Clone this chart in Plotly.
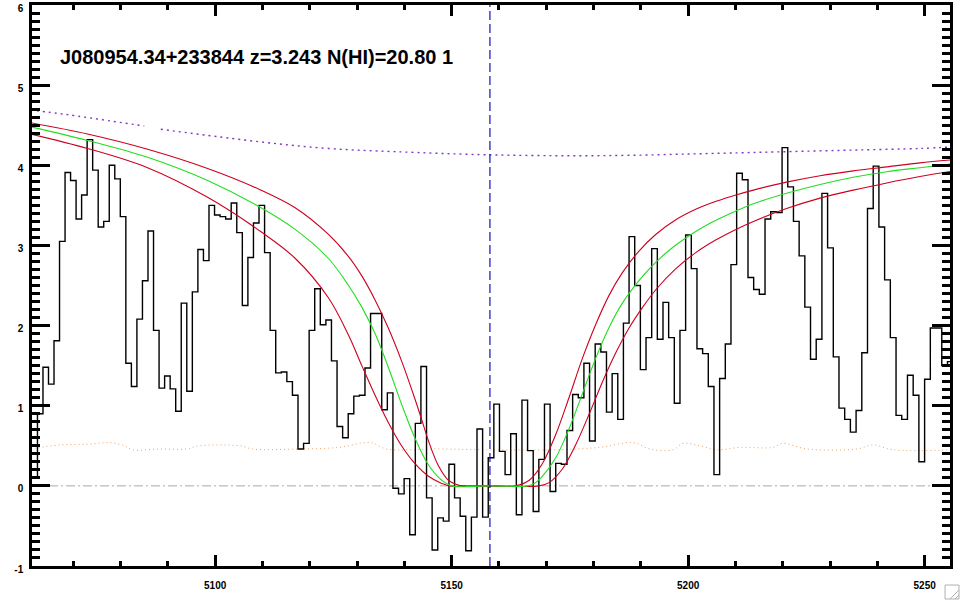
import numpy as np
import plotly.graph_objects as go

# ---------------- data ----------------
qso_name = "J080954.34+233844"
z_abs = 3.243
log_nhi = "20.80"
lya_rest = 1215.67

wave_start = 5061.26      # left edge of first pixel (Angstrom)
log_step = 1e-4           # SDSS log10 pixel width

flux = [0.10, 0.90, 1.48, 1.27, 1.81, 3.05, 3.91, 3.81, 3.33, 3.63,
        4.32, 3.94, 3.23, 3.30, 4.00, 3.83, 3.36, 1.53, 1.24, 2.08,
        2.56, 3.18, 1.94, 1.22, 1.37, 1.21, 0.93, 2.28, 1.18, 2.42,
        2.95, 2.81, 3.50, 3.38, 3.36, 3.33, 3.53, 3.16, 2.25, 2.85,
        3.28, 3.50, 2.91, 1.94, 1.41, 1.42, 1.30, 1.13, 0.46, 0.53,
        1.94, 2.46, 2.01, 2.07, 1.56, 0.74, 0.60, 0.90, 1.12, 1.13,
        1.47, 2.15, 2.15, 0.95, 1.16, -0.03, -0.10, 0.09, -0.61, 0.78,
        1.49, -0.15, -0.80, -0.40, -0.44, 0.27, -0.15, -0.38, -0.81, -0.39,
        0.71, -0.39, 0.35, 1.02, 0.43, 0.14, 0.65, -0.36, 1.07, 0.44,
        -0.32, 0.33, 1.02, -0.07, 0.28, 0.27, 0.69, 1.14, 1.10, 1.53,
        0.56, 1.77, 1.67, 0.92, 1.40, 0.83, 2.03, 3.11, 2.50, 1.45,
        1.85, 2.96, 1.83, 2.29, 1.85, 1.03, 1.94, 3.13, 2.71, 1.71,
        1.65, 1.24, 0.14, 1.34, 1.77, 2.76, 3.90, 3.82, 2.60, 2.45,
        2.39, 3.33, 3.42, 3.41, 4.22, 3.73, 3.30, 2.87, 2.23, 1.58,
        1.83, 3.65, 2.97, 1.61, 0.97, 0.83, 0.67, 0.94, 1.66, 3.46,
        3.99, 3.23, 2.57, 1.85, 0.88, 0.83, 1.38, 1.13, 0.30, 1.33,
        1.97, 1.97, 1.50, 1.55]

# best-fit damped Lya profile (green)
fit_wave = [5061.0, 5073.0, 5085.7, 5098.4, 5109.7, 5116.9, 5123.9, 5128.2,
            5131.0, 5133.8, 5136.6, 5139.4, 5142.2, 5145.1, 5147.9, 5150.0,
            5158.0, 5166.0, 5167.5, 5169.2, 5172.0, 5174.8, 5177.7, 5180.5,
            5183.3, 5186.1, 5189.6, 5192.5, 5196.0, 5200.2, 5204.4, 5210.1,
            5213.8, 5220.8, 5227.9, 5234.9, 5242.0, 5249.0, 5256.1]
fit_flux = [4.48, 4.31, 4.10, 3.81, 3.47, 3.20, 2.84, 2.50,
            2.23, 1.90, 1.48, 1.02, 0.60, 0.26, 0.07, 0.0,
            0.0, 0.0, 0.03, 0.12, 0.35, 0.71, 1.16, 1.60,
            1.98, 2.28, 2.56, 2.75, 2.94, 3.12, 3.27, 3.43,
            3.52, 3.65, 3.76, 3.85, 3.92, 3.97, 4.02]

# profile for N(HI) - sigma (upper red)
hi_wave = [5061.0, 5073.0, 5085.7, 5098.4, 5109.7, 5116.9, 5123.9, 5128.2,
           5131.0, 5133.8, 5136.6, 5139.4, 5142.2, 5143.7, 5145.1, 5147.2,
           5149.3, 5151.4, 5152.5, 5158.0, 5163.5, 5166.4, 5169.2, 5172.0,
           5174.8, 5177.7, 5180.5, 5183.3, 5186.1, 5189.6, 5193.2, 5197.4,
           5201.6, 5205.9, 5210.1, 5213.8, 5220.8, 5227.9, 5234.9, 5242.0,
           5249.0, 5256.1]
hi_flux = [4.53, 4.39, 4.20, 3.96, 3.69, 3.47, 3.14, 2.86,
           2.62, 2.32, 1.97, 1.56, 1.09, 0.82, 0.56, 0.25,
           0.07, 0.01, 0.0, 0.0, 0.0, 0.07, 0.28, 0.64,
           1.10, 1.60, 2.02, 2.38, 2.66, 2.93, 3.14, 3.32,
           3.45, 3.55, 3.63, 3.69, 3.79, 3.87, 3.93, 3.98,
           4.03, 4.07]

# profile for N(HI) + sigma (lower red)
lo_wave = [5061.0, 5073.0, 5085.7, 5098.4, 5109.7, 5116.9, 5123.9, 5128.2,
           5131.0, 5133.8, 5136.6, 5139.4, 5142.2, 5145.1, 5147.9, 5149.5,
           5158.0, 5168.5, 5170.6, 5173.4, 5176.2, 5179.1, 5181.9, 5184.7,
           5187.5, 5190.4, 5193.2, 5197.4, 5201.6, 5205.9, 5210.1, 5213.8,
           5220.8, 5227.9, 5234.9, 5242.0, 5249.0, 5256.1]
lo_flux = [4.39, 4.21, 3.97, 3.60, 3.17, 2.84, 2.35, 1.88,
           1.50, 1.13, 0.79, 0.50, 0.28, 0.12, 0.03, 0.0,
           0.0, 0.0, 0.04, 0.21, 0.51, 0.90, 1.30, 1.66,
           1.97, 2.23, 2.45, 2.71, 2.91, 3.07, 3.20, 3.30,
           3.46, 3.59, 3.69, 3.78, 3.86, 3.93]

# continuum (purple dotted)
cont_wave = [5061.0, 5067.7, 5070.2, 5085.0, 5086.0, 5088.5, 5109.8, 5123.9,
             5138.0, 5158.5, 5181.3, 5206.7, 5220.8, 5234.9, 5249.0, 5256.1]
cont_flux = [4.69, 4.64, 4.62, 4.49, None, 4.45, 4.29, 4.21,
             4.17, 4.13, 4.12, 4.15, 4.17, 4.19, 4.21, 4.23]

# flux error (orange dotted)
err_wave = [5061.0, 5067.1, 5073.4, 5077.7, 5080.8, 5082.5, 5088.2, 5093.9,
            5096.7, 5105.2, 5107.9, 5117.9, 5126.3, 5132.7, 5136.3, 5147.5,
            5157.4, 5171.4, 5181.3, 5188.3, 5191.9, 5196.8, 5198.9, 5202.5,
            5206.1, 5210.9, 5217.9, 5220.0, 5225.1, 5235.7, 5239.1, 5243.3,
            5256.0]
err_flux = [0.46, 0.51, 0.52, 0.54, 0.50, 0.45, 0.46, 0.46,
            0.50, 0.50, 0.46, 0.46, 0.48, 0.54, 0.46, 0.46,
            0.45, 0.45, 0.48, 0.54, 0.46, 0.45, 0.53, 0.50,
            0.45, 0.48, 0.48, 0.53, 0.46, 0.46, 0.51, 0.45,
            0.45]

x_ticks = [5100, 5150, 5200, 5250]
y_ticks = [-1, 0, 1, 2, 3, 4, 5, 6]

# ---------------- figure ----------------
edges = wave_start * 10 ** (log_step * np.arange(len(flux) + 1))
hist_y = flux + [flux[-1]]
lya_obs = lya_rest * (1 + z_abs)

fig = go.Figure()

fig.add_trace(go.Scatter(x=err_wave, y=err_flux, mode="lines", line_shape="spline",
                         line=dict(color="#eaa66a", width=1, dash="1px,3px"),
                         hoverinfo="skip"))
fig.add_trace(go.Scatter(x=cont_wave, y=cont_flux, mode="lines", line_shape="spline",
                         connectgaps=False,
                         line=dict(color="#8038c0", width=1.4, dash="2px,4px"),
                         hoverinfo="skip"))
fig.add_trace(go.Scatter(x=edges, y=hist_y, mode="lines", line_shape="hv",
                         line=dict(color="black", width=1.4)))
fig.add_trace(go.Scatter(x=hi_wave, y=hi_flux, mode="lines", line_shape="spline",
                         line=dict(color="#cc0020", width=1.1, smoothing=1.0)))
fig.add_trace(go.Scatter(x=lo_wave, y=lo_flux, mode="lines", line_shape="spline",
                         line=dict(color="#cc0020", width=1.1, smoothing=1.0)))
fig.add_trace(go.Scatter(x=fit_wave, y=fit_flux, mode="lines", line_shape="spline",
                         line=dict(color="#22dd22", width=1.1, smoothing=1.0)))

# zero line and Lya marker
fig.add_shape(type="line", xref="paper", x0=0, x1=1, yref="y", y0=0, y1=0,
              line=dict(color="#aaaaaa", width=1, dash="9px,3px,2px,3px"), layer="below")
fig.add_shape(type="line", xref="x", x0=lya_obs, x1=lya_obs, yref="paper", y0=0, y1=1,
              line=dict(color="#1010c0", width=1.2, dash="9px,4px"))

# window resize grip (bottom-right)
grip = dict(color="#b0b0b0", width=1)
fig.add_shape(type="rect", xref="paper", yref="paper", x0=0.9946, x1=1.0098,
              y0=-0.0588, y1=-0.0339, line=grip)
fig.add_shape(type="line", xref="paper", yref="paper", x0=1.0000, x1=1.0098,
              y0=-0.0588, y1=-0.0428, line=grip)
fig.add_shape(type="line", xref="paper", yref="paper", x0=1.0054, x1=1.0098,
              y0=-0.0588, y1=-0.0517, line=grip)

title = f"{qso_name} z={z_abs:.3f} N(HI)={log_nhi} 1"
fig.add_annotation(text=title, xref="paper", yref="paper", x=0.0283, y=0.907,
                   xanchor="left", yanchor="middle", showarrow=False,
                   font=dict(family="Liberation Sans", size=20, color="black", weight="bold"))

axis_font = dict(family="Liberation Sans", size=10, color="black", weight="bold")
fig.update_xaxes(range=[5061.27, 5255.36], tickvals=x_ticks,
                 ticktext=[str(v) for v in x_ticks], automargin=False,
                 ticklabeloverflow="allow",
                 showgrid=False, zeroline=False, showline=True, linecolor="black",
                 linewidth=2.5, mirror="allticks", ticks="inside", ticklen=11,
                 tickwidth=2.5, tickcolor="black", tickfont=axis_font,
                 ticklabelstandoff=8,
                 minor=dict(dtick=10, tick0=5100, ticks="inside", ticklen=5,
                            tickwidth=2.5, tickcolor="black", showgrid=False))
fig.update_yaxes(range=[-1, 6], tickvals=y_ticks,
                 ticktext=[str(v) for v in y_ticks], automargin=False,
                 ticklabeloverflow="allow", ticklabelshift=3,
                 showgrid=False, zeroline=False, showline=True, linecolor="black",
                 linewidth=2.5, mirror="allticks", ticks="inside", ticklen=18,
                 tickwidth=2.5, tickcolor="black", tickfont=axis_font,
                 ticklabelstandoff=4,
                 minor=dict(dtick=0.1, tick0=0, ticks="inside", ticklen=8,
                            tickwidth=2.5, tickcolor="black", showgrid=False))

fig.update_layout(width=960, height=600, showlegend=False,
                  margin=dict(l=32, r=10, t=5, b=34),
                  paper_bgcolor="white", plot_bgcolor="white",
                  font=dict(family="Liberation Sans"))

fig.write_html("out.html", config={"displayModeBar": False},
               post_script="document.body.style.margin='0';document.body.style.overflow='hidden';")
